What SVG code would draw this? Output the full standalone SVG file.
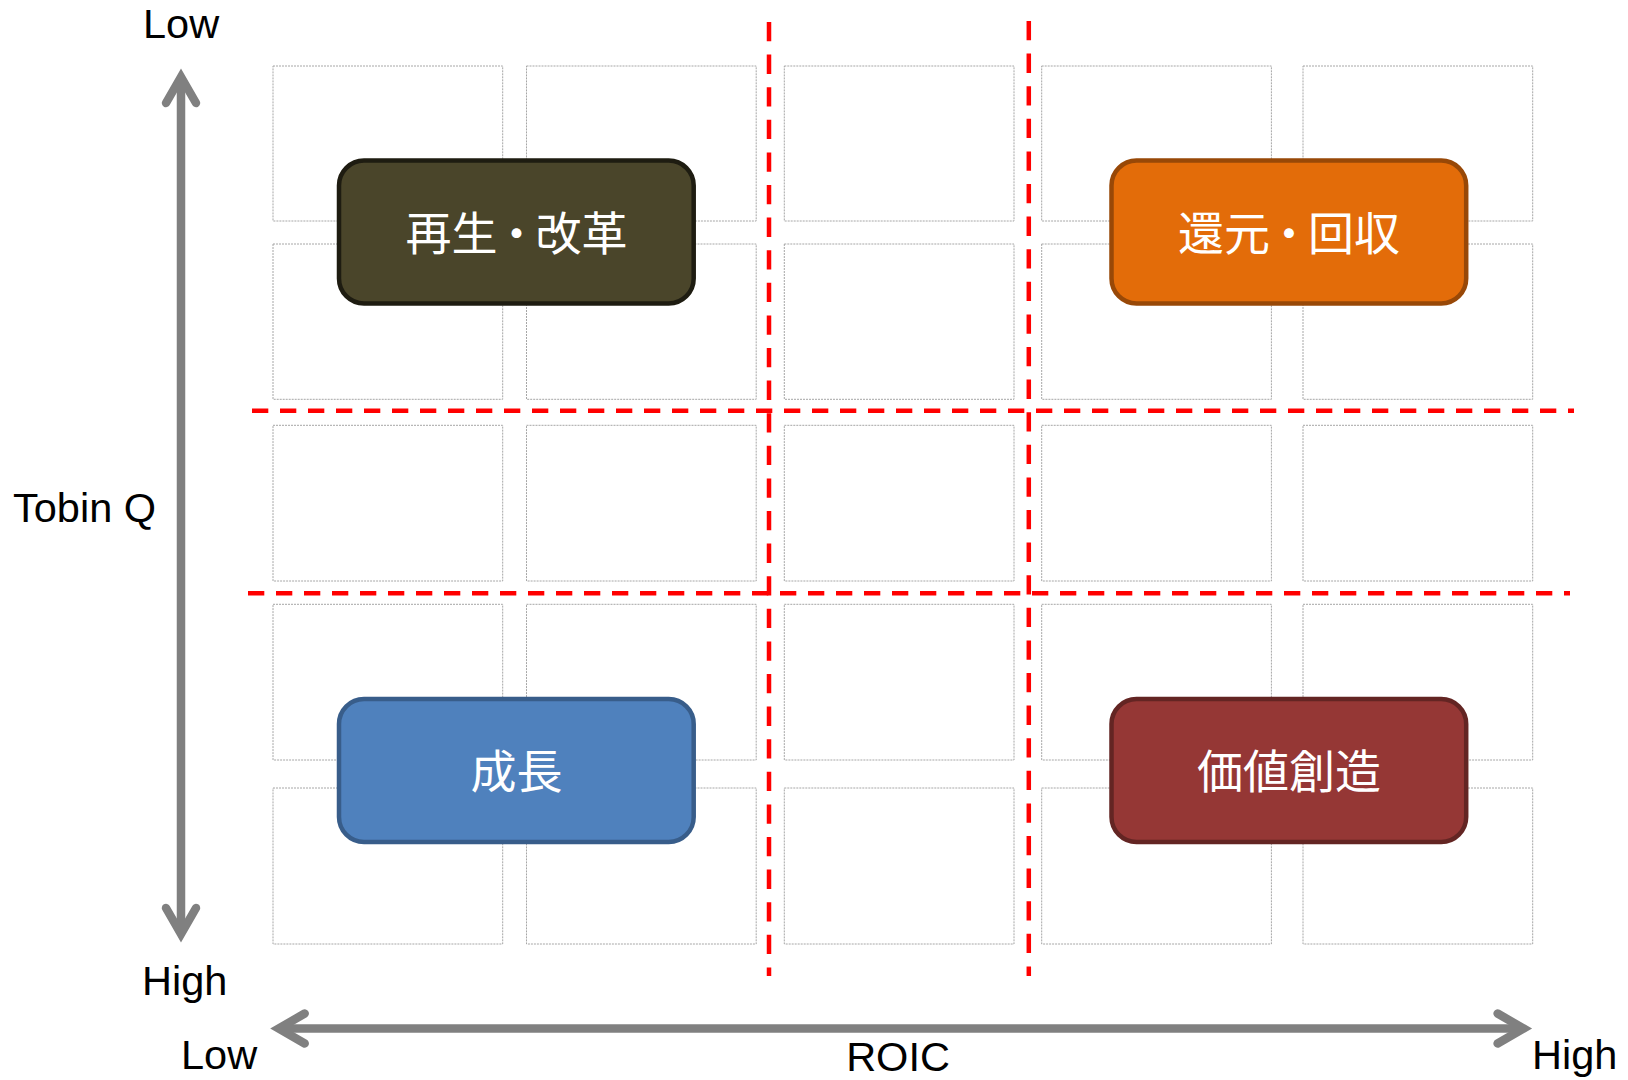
<svg xmlns="http://www.w3.org/2000/svg" width="1628" height="1080" viewBox="0 0 1628 1080">
<style>
.cell{fill:#ffffff;stroke:#a6a6a6;stroke-width:1;stroke-dasharray:2 1}
.split{fill:none;stroke:#ff0000;stroke-width:4.5}
.h{stroke-dasharray:16.3 11.7}
.v{stroke-dasharray:19.3 13.3}
.axis{fill:none;stroke:#808080;stroke-width:8.5}
.lbl{font-family:"Liberation Sans",Arial,sans-serif;font-size:41.5px;fill:#000000}
.node rect{stroke-width:4.5}
.node text{font-family:"Noto Sans CJK JP","Noto Sans CJK SC",sans-serif;font-size:46px;fill:#ffffff;text-anchor:middle}
</style>
<defs>
<marker id="chev" markerUnits="userSpaceOnUse" markerWidth="60" markerHeight="60" viewBox="-40 -30 60 60" refX="0" refY="0" orient="auto-start-reverse" overflow="visible">
<path d="M -26 -15 L 0 0 L -26 15" fill="none" stroke="#808080" stroke-width="8.5" stroke-linecap="round" stroke-linejoin="miter"/>
</marker>
</defs>
<rect width="1628" height="1080" fill="#ffffff"/>
<g id="grid">
<rect class="cell" x="273" y="66" width="229.7" height="155"/>
<rect class="cell" x="526.5" y="66" width="229.7" height="155"/>
<rect class="cell" x="784.3" y="66" width="229.7" height="155"/>
<rect class="cell" x="1041.7" y="66" width="229.7" height="155"/>
<rect class="cell" x="1303" y="66" width="229.7" height="155"/>
<rect class="cell" x="273" y="244" width="229.7" height="155.3"/>
<rect class="cell" x="526.5" y="244" width="229.7" height="155.3"/>
<rect class="cell" x="784.3" y="244" width="229.7" height="155.3"/>
<rect class="cell" x="1041.7" y="244" width="229.7" height="155.3"/>
<rect class="cell" x="1303" y="244" width="229.7" height="155.3"/>
<rect class="cell" x="273" y="425.3" width="229.7" height="155.7"/>
<rect class="cell" x="526.5" y="425.3" width="229.7" height="155.7"/>
<rect class="cell" x="784.3" y="425.3" width="229.7" height="155.7"/>
<rect class="cell" x="1041.7" y="425.3" width="229.7" height="155.7"/>
<rect class="cell" x="1303" y="425.3" width="229.7" height="155.7"/>
<rect class="cell" x="273" y="604.3" width="229.7" height="155.7"/>
<rect class="cell" x="526.5" y="604.3" width="229.7" height="155.7"/>
<rect class="cell" x="784.3" y="604.3" width="229.7" height="155.7"/>
<rect class="cell" x="1041.7" y="604.3" width="229.7" height="155.7"/>
<rect class="cell" x="1303" y="604.3" width="229.7" height="155.7"/>
<rect class="cell" x="273" y="788" width="229.7" height="156"/>
<rect class="cell" x="526.5" y="788" width="229.7" height="156"/>
<rect class="cell" x="784.3" y="788" width="229.7" height="156"/>
<rect class="cell" x="1041.7" y="788" width="229.7" height="156"/>
<rect class="cell" x="1303" y="788" width="229.7" height="156"/>
</g>
<g id="splits">
<line class="split v" x1="769" y1="22" x2="769" y2="976"/>
<line class="split v" x1="1028.8" y1="21" x2="1028.8" y2="976"/>
<line class="split h" x1="252" y1="410.7" x2="1574" y2="410.7"/>
<line class="split h" x1="248" y1="593.3" x2="1570" y2="593.3"/>
</g>
<g id="connectors">
<line id="axis-tobinq" class="axis" x1="181" y1="77" x2="181" y2="934" marker-start="url(#chev)" marker-end="url(#chev)"/>
<line id="axis-roic" class="axis" x1="278.7" y1="1028.5" x2="1523.6" y2="1028.5" marker-start="url(#chev)" marker-end="url(#chev)"/>
</g>
<g id="labels">
<text class="lbl" x="143" y="38">Low</text>
<text class="lbl" x="13" y="522">Tobin Q</text>
<text class="lbl" x="142" y="995">High</text>
<text class="lbl" x="181" y="1069">Low</text>
<text class="lbl" x="898" y="1071" text-anchor="middle">ROIC</text>
<text class="lbl" x="1532" y="1069">High</text>
</g>
<g id="node-saisei" class="node">
<rect x="339" y="160.5" width="354.7" height="143" rx="25" fill="#4a452a" stroke="#1e1c11"/>
<text x="516.4" y="249.5">再生<tspan dx="-4">・</tspan><tspan dx="-4">改革</tspan></text>
</g>
<g id="node-kangen" class="node">
<rect x="1111.5" y="160.5" width="354.7" height="143" rx="25" fill="#e36c09" stroke="#984807"/>
<text x="1289" y="249.5">還元<tspan dx="-4">・</tspan><tspan dx="-4">回収</tspan></text>
</g>
<g id="node-seicho" class="node">
<rect x="339" y="699" width="354.7" height="143" rx="25" fill="#4f81bd" stroke="#385d8a"/>
<text x="516.4" y="788">成長</text>
</g>
<g id="node-kachi" class="node">
<rect x="1111.5" y="699" width="354.7" height="143" rx="25" fill="#953735" stroke="#632523"/>
<text x="1289" y="788">価値創造</text>
</g>
</svg>
